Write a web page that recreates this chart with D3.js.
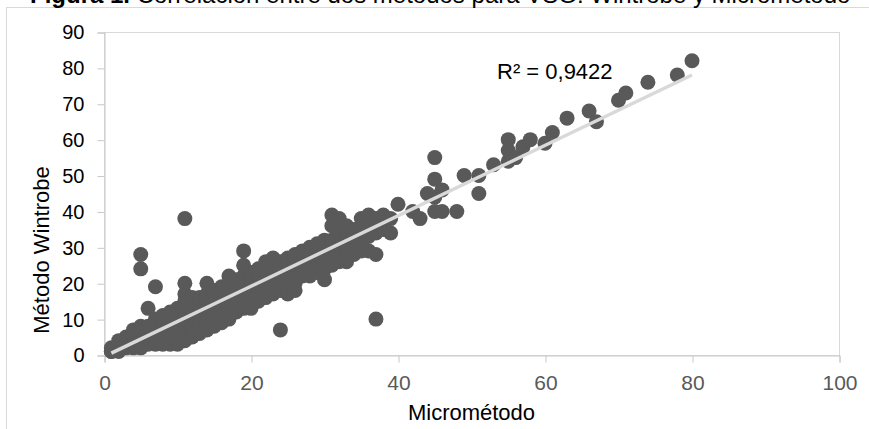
<!DOCTYPE html>
<html>
<head>
<meta charset="utf-8">
<script src="https://cdn.jsdelivr.net/npm/d3@7"></script>
<style>
  body { margin: 0; background: #fff; }
  text { font-family: "Liberation Sans", Arial, sans-serif; }
</style>
</head>
<body>
<div id="box"></div>
<script>
// 画布
const width = 869
const height = 429
const plot = {left: 104, right: 839, top: 32, bottom: 355}

// 数据：Micrométodo (x) / Método Wintrobe (y)
const micrometodo = [
  1,1,1,
  2,2,2,2,
  3,3,3,3,
  4,4,4,4,4,4,
  5,5,5,5,5,5,5,5,5,
  6,6,6,6,6,6,6,
  7,7,7,7,7,7,7,7,7,
  8,8,8,8,8,8,8,8,8,
  9,9,9,9,9,9,9,9,9,9,
  10,10,10,10,10,10,10,10,10,10,
  11,11,11,11,11,11,11,11,11,11,11,11,11,11,
  12,12,12,12,12,12,12,12,12,12,
  13,13,13,13,13,13,13,13,13,13,
  14,14,14,14,14,14,14,14,14,14,
  15,15,15,15,15,15,15,15,15,
  16,16,16,16,16,16,16,16,16,
  17,17,17,17,17,17,17,17,17,
  18,18,18,18,18,18,18,18,
  19,19,19,19,19,19,19,19,19,19,
  20,20,20,20,20,20,20,20,20,
  21,21,21,21,21,21,21,21,
  22,22,22,22,22,22,22,22,
  23,23,23,23,23,23,23,23,
  24,24,24,24,24,24,24,24,
  25,25,25,25,25,25,25,25,
  26,26,26,26,26,26,26,26,
  27,27,27,27,27,27,27,
  28,28,28,28,28,28,28,
  29,29,29,29,29,29,29,
  30,30,30,30,30,30,30,30,
  31,31,31,31,31,31,31,31,
  32,32,32,32,32,32,32,32,
  33,33,33,33,33,33,33,
  34,34,34,34,34,
  35,35,35,35,35,
  36,36,36,36,36,
  37,37,37,37,37,
  38,38,38,
  39,39,
  40, 42, 43, 44,
  45,45,45,45,
  46,46, 48, 49,
  51,51, 53,
  55,55,55, 56, 57, 58, 60, 61, 63, 66, 67,
  70, 71, 74, 78, 80
]
const wintrobe = [
  1,1,2,
  1,2,3,4,
  2,3,4,5,
  2,3,4,5,6,7,
  2,3,4,5,6,7,8,24,28,
  3,4,5,6,7,8,13,
  3,4,5,6,7,8,9,10,19,
  3,4,5,6,7,8,9,10,11,
  3,4,5,6,7,8,9,10,11,12,
  3,4,5,6,8,9,10,11,12,13,
  4,5,6,7,8,9,10,11,12,14,15,17,20,38,
  5,6,7,8,10,11,12,13,14,16,
  6,7,8,9,10,12,13,14,15,16,
  7,8,10,11,12,14,15,16,17,20,
  8,9,10,12,13,14,15,16,18,
  9,11,12,14,15,16,17,18,19,
  10,11,13,15,16,17,18,20,22,
  12,13,15,16,18,19,20,21,
  13,14,16,18,19,20,21,22,25,29,
  13,14,16,18,19,20,21,22,23,
  15,17,19,20,21,22,23,24,
  16,18,20,21,22,23,24,26,
  17,19,21,22,23,24,25,27,
  7,18,20,22,23,24,25,26,
  17,18,21,23,24,25,26,27,
  18,20,22,24,25,26,27,28,
  22,23,25,26,27,28,29,
  22,24,25,27,28,29,30,
  23,25,27,28,29,30,31,
  21,24,26,28,29,30,31,32,
  25,27,29,30,31,32,36,39,
  26,28,30,31,32,33,35,38,
  26,27,29,31,33,34,36,
  28,30,32,33,35,
  29,31,34,36,38,
  29,33,35,37,39,
  10,28,34,36,38,
  35,37,39,
  34,38,
  42, 40, 38, 45,
  40,44,49,55,
  40,46, 40, 50,
  45,50, 53,
  54,57,60, 55, 58, 60, 59, 62, 66, 68, 65,
  71, 73, 76, 78, 82
]

// 刻度
const xTicks = [0, 20, 40, 60, 80, 100]
const yTicks = [0, 10, 20, 30, 40, 50, 60, 70, 80, 90]

const titulo = "Correlación entre dos métodos para VSG: Wintrobe y Micrométodo"
const r2Label = "R² = 0,9422"

const data = micrometodo.map((v, i) => ({x: v, y: wintrobe[i]}))

const x = d3.scaleLinear().domain([0, 100]).range([plot.left, plot.right])
const y = d3.scaleLinear().domain([0, 90]).range([plot.bottom, plot.top])

const svg = d3.select('#box').append('svg')
  .attr('width', width)
  .attr('height', height)

// 外框
svg.append('rect')
  .attr('x', 6.5).attr('y', 7.5)
  .attr('width', 900).attr('height', 500)
  .attr('fill', 'none').attr('stroke', '#d9d9d9')

// 标题（被裁掉上半部分）
const title = svg.append('text')
  .attr('x', 30).attr('y', 3)
  .style('font-size', '24px')
  .attr('fill', '#000')
title.append('tspan').style('font-weight', 'bold').text('Figura 1. ')
title.append('tspan').text(titulo)

// 绘图区边框
svg.append('rect')
  .attr('x', plot.left + 0.5).attr('y', plot.top + 0.5)
  .attr('width', plot.right - plot.left).attr('height', plot.bottom - plot.top)
  .attr('fill', 'none').attr('stroke', '#d9d9d9')

// 坐标轴
const xAxis = svg.append('g')
  .attr('transform', `translate(0.5,${plot.bottom + 0.5})`)
  .call(d3.axisBottom(x).tickValues(xTicks).tickSize(7).tickPadding(13).tickFormat(d3.format('d')))
xAxis.select('.domain').attr('stroke', '#c8c8c8')
xAxis.selectAll('.tick line').attr('stroke', '#c8c8c8')
xAxis.selectAll('.tick text')
  .attr('fill', '#595959')
  .style('font-size', '21px')
  .style('font-family', '"Liberation Sans", Arial, sans-serif')

const yAxis = svg.append('g')
  .attr('transform', `translate(${plot.left + 0.5},0.5)`)
  .call(d3.axisLeft(y).tickValues(yTicks).tickSize(7).tickPadding(13))
yAxis.select('.domain').attr('stroke', '#c8c8c8')
yAxis.selectAll('.tick line').attr('stroke', '#c8c8c8')
yAxis.selectAll('.tick text')
  .attr('fill', '#000')
  .style('font-size', '20px')
  .style('font-family', '"Liberation Sans", Arial, sans-serif')

// 散点
svg.append('g')
  .selectAll('circle')
  .data(data)
  .join('circle')
  .attr('cx', d => x(d.x))
  .attr('cy', d => y(d.y))
  .attr('r', 7.5)
  .attr('fill', '#595959')

// 线性趋势线（最小二乘）
const mx = d3.mean(data, d => d.x)
const my = d3.mean(data, d => d.y)
const slope = d3.sum(data, d => (d.x - mx) * (d.y - my)) / d3.sum(data, d => (d.x - mx) ** 2)
const intercept = my - slope * mx
const [x0, x1] = d3.extent(data, d => d.x)
svg.append('line')
  .attr('x1', x(x0)).attr('y1', y(intercept + slope * x0))
  .attr('x2', x(x1)).attr('y2', y(intercept + slope * x1))
  .attr('stroke', '#d9d9d9')
  .attr('stroke-width', 3.5)

// R² 标签
svg.append('text')
  .attr('x', 497).attr('y', 79)
  .style('font-size', '22px')
  .attr('fill', '#000')
  .text(r2Label)

// 轴标题
svg.append('text')
  .attr('x', (plot.left + plot.right) / 2).attr('y', 420)
  .attr('text-anchor', 'middle')
  .style('font-size', '22px')
  .text('Micrométodo')

svg.append('text')
  .attr('transform', `translate(49,250) rotate(-90)`)
  .attr('text-anchor', 'middle')
  .style('font-size', '22px')
  .text('Método Wintrobe')
</script>
</body>
</html>
